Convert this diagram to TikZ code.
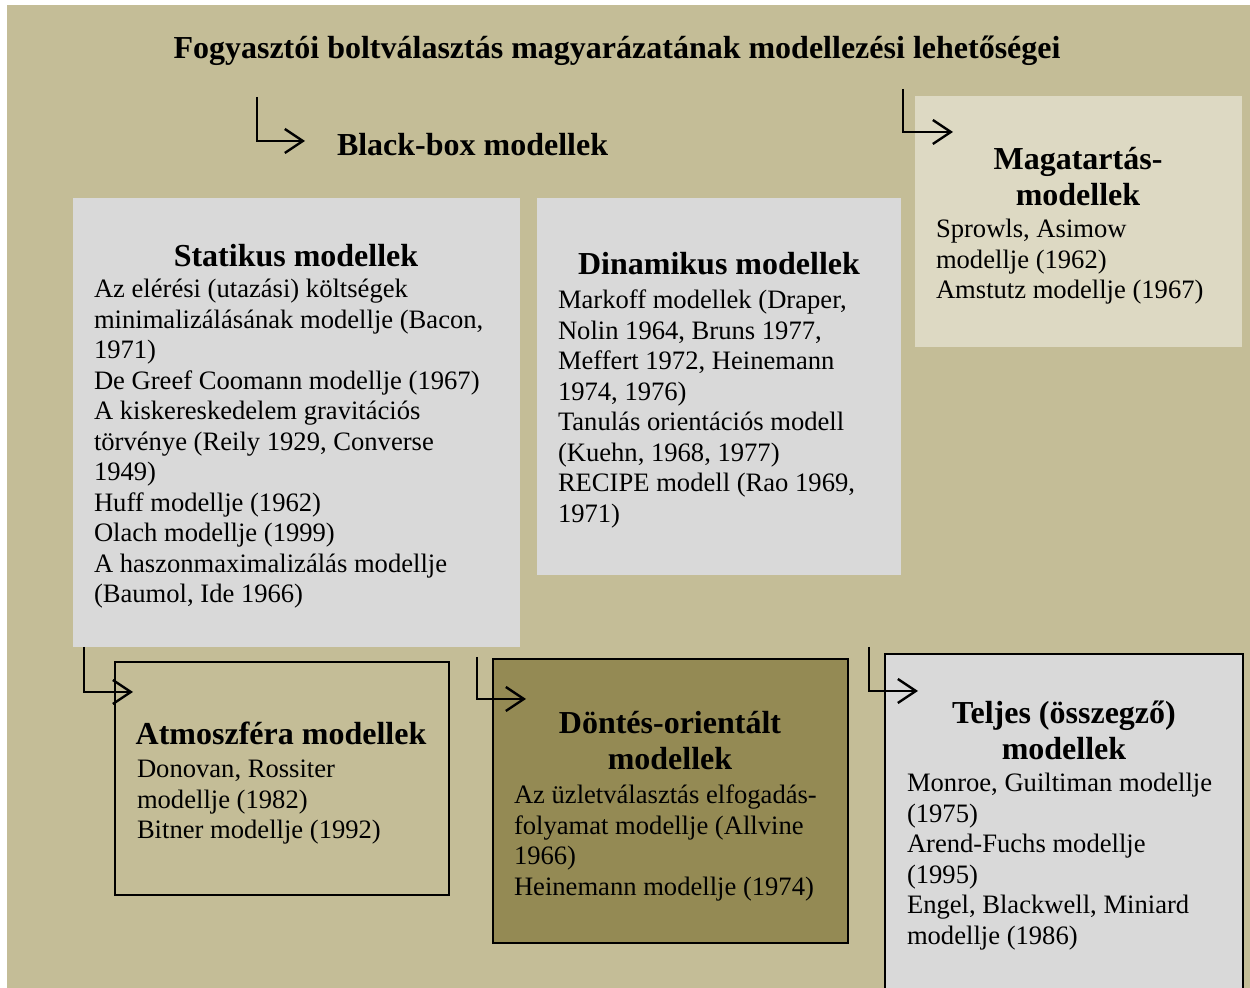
\documentclass[tikz,border=0pt]{standalone}
\usepackage{fontspec}
\setmainfont{Liberation Serif}
\usetikzlibrary{arrows.meta}
\definecolor{tanbg}{HTML}{C4BD97}
\definecolor{grayfill}{HTML}{D9D9D9}
\definecolor{lightfill}{HTML}{DDD9C3}
\definecolor{olivefill}{HTML}{948A54}
\tikzset{
    boxM/.style args={#1 #2}{
        anchor=north west, fill=#1, line width=1pt,
        minimum width=#2
    },
    headM/.style={
        anchor=north, align=center,
        font=\fontsize{16}{18}\selectfont\bfseries
    },
    bodyM/.style={
        anchor=north west, align=left,
        font=\fontsize{13.3}{15.25}\selectfont
    },
    elbowA/.style={
        line width=1.2pt,
        -{Straight Barb[length=9pt, width=12pt]}
    }
}

\begin{document}
\begin{tikzpicture}[x=0.5pt, y=-0.5pt]
    \def \px {0.5pt}
    \tikzstyle{every node}=[inner sep=0pt, outer sep=0pt];
    \useasboundingbox (0,0) rectangle (1250,988);
    \clip (0,0) rectangle (1250,988);
    \fill[tanbg] (7,5) rectangle (1250,988);
    % boxes
    \node[boxM={grayfill 447*\px}, minimum height=449*\px] (stat) at (73,198) {};
    \node[boxM={grayfill 364*\px}, minimum height=377*\px] (dyn) at (537,198) {};
    \node[boxM={lightfill 327*\px}, minimum height=251*\px] (mag) at (915,96) {};
    \node[boxM={tanbg 334*\px}, draw, minimum height=233*\px] (atm) at (115,662) {};
    \node[boxM={olivefill 355*\px}, draw, minimum height=284*\px] (dont) at (493,659) {};
    \node[boxM={grayfill 358*\px}, draw, minimum height=400*\px] (telj) at (885,654) {};
    % arrows
    \coordinate (bb1) at (257,97);
    \coordinate (bb2) at (305,141);
    \coordinate (mg1) at (903,89);
    \coordinate (mg2) at (953,132);
    \coordinate (at1) at (84,647);
    \coordinate (at2) at (133,692);
    \coordinate (dn1) at (477,657);
    \coordinate (dn2) at (526,699);
    \coordinate (tj1) at (869,647);
    \coordinate (tj2) at (918,691);
    \draw[elbowA] (bb1) |- (bb2);
    \draw[elbowA] (mg1) |- (mg2);
    \draw[elbowA] (at1) |- (at2);
    \draw[elbowA] (dn1) |- (dn2);
    \draw[elbowA] (tj1) |- (tj2);
    % texts
    \node[anchor=base, font=\fontsize{16}{18}\selectfont\bfseries] (ttl) at (617,59)
        {Fogyasztói boltválasztás magyarázatának modellezési lehetőségei};
    \node[anchor=base west, font=\fontsize{16}{18}\selectfont\bfseries] (bbox) at (337,156)
        {Black-box modellek};
    \node[headM] (stat-h) at (296,241.8) {\strut Statikus modellek};
    \node[bodyM] (stat-b) at (94,276.6) {\strut Az elérési (utazási) költségek\\
        minimalizálásának modellje (Bacon,\\
        1971)\\
        De Greef Coomann modellje (1967)\\
        A kiskereskedelem gravitációs\\
        törvénye (Reily 1929, Converse\\
        1949)\\
        Huff modellje (1962)\\
        Olach modellje (1999)\\
        A haszonmaximalizálás modellje\\
        (Baumol, Ide 1966)};
    \node[headM] (dyn-h) at (719,249.8) {\strut Dinamikus modellek};
    \node[bodyM] (dyn-b) at (558,287.6) {\strut Markoff modellek (Draper,\\
        Nolin 1964, Bruns 1977,\\
        Meffert 1972, Heinemann\\
        1974, 1976)\\
        Tanulás orientációs modell\\
        (Kuehn, 1968, 1977)\\
        RECIPE modell (Rao 1969,\\
        1971)};
    \node[headM] (mag-h) at (1078,144.8) {\strut Magatartás-\\modellek};
    \node[bodyM] (mag-b) at (936,216.6) {\strut Sprowls, Asimow\\
        modellje (1962)\\
        Amstutz modellje (1967)};
    \node[headM] (atm-h) at (281,719.8) {\strut Atmoszféra modellek};
    \node[bodyM] (atm-b) at (137,756.6) {\strut Donovan, Rossiter\\
        modellje (1982)\\
        Bitner modellje (1992)};
    \node[headM] (dont-h) at (670,708.8) {\strut Döntés-orientált\\modellek};
    \node[bodyM] (dont-b) at (514,782.6) {\strut Az üzletválasztás elfogadás-\\
        folyamat modellje (Allvine\\
        1966)\\
        Heinemann modellje (1974)};
    \node[headM] (telj-h) at (1064,698.8) {\strut Teljes (összegző)\\modellek};
    \node[bodyM] (telj-b) at (907,770.6) {\strut Monroe, Guiltiman modellje\\
        (1975)\\
        Arend-Fuchs modellje\\
        (1995)\\
        Engel, Blackwell, Miniard\\
        modellje (1986)};
\end{tikzpicture}
\end{document}
